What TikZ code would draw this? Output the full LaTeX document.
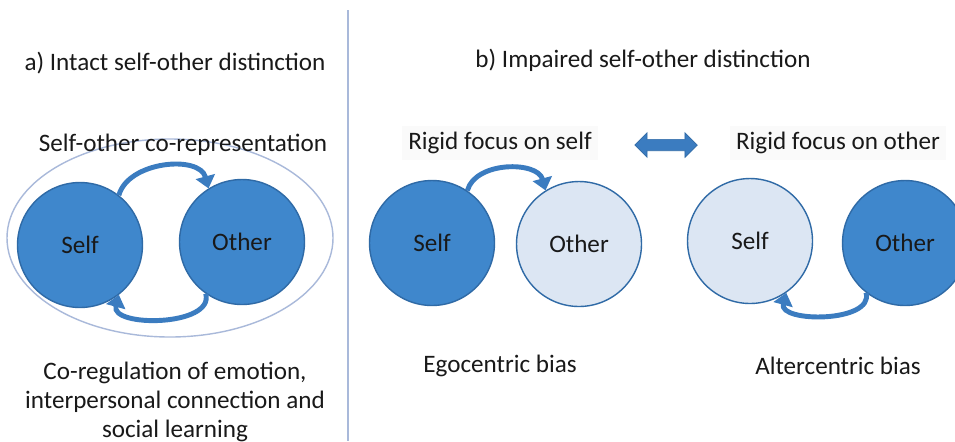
\documentclass[tikz,border=0pt]{standalone}
\usepackage{fontspec}
\setmainfont{Carlito}
\usetikzlibrary{arrows.meta,shapes.arrows}

\definecolor{darkblue}{HTML}{3F87CC}
\definecolor{darkedge}{HTML}{2F6AA6}
\definecolor{paleblue}{HTML}{DCE6F3}
\definecolor{ringblue}{HTML}{A9B9DA}
\definecolor{arrowblue}{HTML}{3B7CC0}

\tikzset{
  darkcirc/.style={circle,draw=darkedge,fill=darkblue,line width=0.8pt,minimum size=2.5cm,inner sep=0pt},
  palecirc/.style={circle,draw=darkedge,fill=paleblue,line width=0.8pt,minimum size=2.5cm,inner sep=0pt},
  curvearrow/.style={draw=arrowblue,line width=2.8pt,-{Triangle[length=7pt,width=11pt]}},
  lbl/.style={font=\fontsize{14.3}{16.5}\selectfont,text=black!90},
}

\begin{document}
\begin{tikzpicture}[x=0.02cm,y=-0.02cm]
  \useasboundingbox (0,0) rectangle (955,441);
  \fill[white] (0,0) rectangle (955,441);
  \draw[ringblue,line width=0.8pt] (348,10) -- (348,441);

  % a) intact
  \node at (175,63) [lbl] (titlea) {a) Intact self-other distinction};
  \draw[ringblue,line width=0.8pt] (170,238) ellipse [x radius=163,y radius=99];
  \node at (183,145) [lbl] (corep) {Self-other co-representation};
  \node at (80,245) [darkcirc,lbl] (selfa) {Self};
  \node at (242,242) [darkcirc,lbl] (othera) {Other};
  \draw[curvearrow] (selfa.52) to[out=75,in=105] (othera.122);
  \draw[curvearrow] (othera.235) to[out=-75,in=-105] (selfa.308);
  \node at (175,402) [lbl,align=center] (coreg) {Co-regulation of emotion,\\interpersonal connection and\\social learning};

  % b) impaired
  \node at (643,60) [lbl] (titleb) {b) Impaired self-other distinction};
  \node at (500,143) [lbl,fill=black!2] (focself) {Rigid focus on self};
  \node at (838,143) [lbl,fill=black!2] (focother) {Rigid focus on other};
  \node at (666,145) [double arrow,fill=arrowblue,draw=darkedge,minimum width=14pt,
    double arrow head extend=2pt,minimum height=1.25cm,inner sep=1.5pt] (swap) {};

  \node at (432,243) [darkcirc,lbl] (selfb) {Self};
  \node at (579,244) [palecirc,lbl] (otherb) {Other};
  \draw[curvearrow] (selfb.56) to[out=75,in=105] (otherb.122);
  \node at (500,366) [lbl] (ego) {Egocentric bias};

  \node at (750,241) [palecirc,lbl] (selfc) {Self};
  \node at (905,243) [darkcirc,lbl] (otherc) {Other};
  \draw[curvearrow] (otherc.232) to[out=-75,in=-105] (selfc.305);
  \node at (838,366) [lbl] (alter) {Altercentric bias};
\end{tikzpicture}
\end{document}
